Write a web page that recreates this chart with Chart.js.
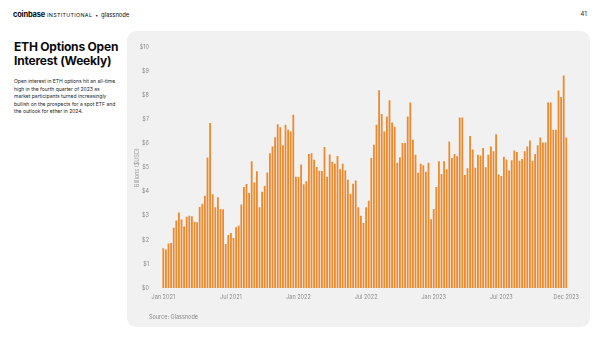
<!DOCTYPE html>
<html>
<head>
<meta charset="utf-8">
<script src="https://cdn.jsdelivr.net/npm/chart.js@4.4.0/dist/chart.umd.min.js"></script>
<style>
    html, body { margin: 0; padding: 0; background: #fff; }
    body { width: 600px; height: 338px; position: relative; overflow: hidden; font-family: Inter, "Open Sans", sans-serif; color: #0a0b0d; }
    .brand { position: absolute; left: 13px; top: 10px; font-size: 7.5px; line-height: 10px; white-space: nowrap; }
    .brand b { font-weight: 700; letter-spacing: -0.2px; }
    .brand .inst { font-size: 5.4px; letter-spacing: 0.3px; font-weight: 400; }
    .brand .dot { font-size: 5px; margin: 0 3px; }
    .brand .gn { font-size: 5.8px; }
    .page { position: absolute; right: 13px; top: 9px; font-size: 6.5px; line-height: 10px; color: #333; }
    .title { position: absolute; left: 14px; top: 40px; font-size: 12px; line-height: 14px; font-weight: 700; letter-spacing: -0.2px; white-space: nowrap; }
    .desc { position: absolute; left: 14px; top: 78px; font-size: 5px; line-height: 7.6px; white-space: pre; color: #222; }
    .panel { position: absolute; left: 127px; top: 31px; width: 463px; height: 296px; background: #f1f1f1; border-radius: 9px; }
    .panel canvas { position: absolute; left: 0; top: 0; }
    .source { position: absolute; left: 149px; top: 313px; font-size: 5.5px; line-height: 8px; color: #888; }
</style>
</head>
<body>
<div class="brand"><b>coinbase</b> <span class="inst">INSTITUTIONAL</span><span class="dot">&bull;</span><span class="gn">glassnode</span></div>
<div class="page">41</div>
<div class="title">ETH Options Open<br>Interest (Weekly)</div>
<div class="desc">Open interest in ETH options hit an all-time
high in the fourth quarter of 2023 as
market participants turned increasingly
bullish on the prospects for a spot ETF and
the outlook for ether in 2024.</div>
<div class="panel"><canvas id="oiChart" width="463" height="296"></canvas></div>
<div class="source">Source: Glassnode</div>

<script>
// weekly ETH options open interest, billions USD
const oi2021 = [1.65, 1.6, 1.85, 1.87, 2.5, 2.8, 3.14, 2.85, 2.55, 2.96, 3.0, 2.98, 2.75,
    2.73, 3.36, 3.5, 3.83, 5.42, 6.85, 3.9, 3.35, 3.77, 3.28, 3.27, 1.83, 2.2,
    2.29, 2.08, 2.52, 2.6, 3.47, 4.2, 4.32, 3.95, 5.27, 4.38, 4.85, 3.35, 4.0,
    4.25, 4.8, 5.6, 5.88, 6.26, 6.8, 6.68, 5.93, 6.78, 6.57, 6.5, 7.2, 4.62];
const oi2022 = [4.61, 5.13, 4.31, 4.44, 5.57, 5.6, 5.33, 5.03, 4.87, 4.86, 5.86, 4.62, 5.55,
    5.24, 5.16, 5.48, 4.93, 5.16, 4.88, 4.5, 3.92, 4.33, 4.47, 3.35, 3.0, 2.7,
    3.35, 3.62, 5.4, 5.95, 6.78, 8.22, 7.23, 6.5, 7.12, 7.8, 6.88, 6.7, 5.2,
    5.43, 6.02, 6.02, 7.12, 7.71, 6.16, 5.54, 4.79, 5.16, 5.1, 4.83, 5.2, 2.86];
const oi2023 = [3.28, 4.2, 5.27, 4.74, 5.27, 4.93, 6.09, 5.4, 5.57, 5.47, 7.08, 7.08, 4.69,
    4.97, 6.31, 5.75, 5.0, 5.54, 5.5, 5.82, 5.02, 5.54, 5.88, 5.68, 6.39, 4.72,
    4.65, 5.45, 5.34, 4.88, 5.31, 5.71, 5.65, 5.29, 5.36, 5.68, 5.88, 6.13, 5.29,
    5.57, 5.93, 6.25, 6.05, 6.05, 7.71, 7.71, 6.57, 6.57, 8.21, 7.94, 8.83, 6.25];

const tickLabels = ['Jan 2021', 'Jul 2021', 'Jan 2022', 'Jul 2022', 'Jan 2023', 'Jul 2023', 'Dec 2023'];
const monthNames = ['Jan', 'Feb', 'Mar', 'Apr', 'May', 'Jun', 'Jul', 'Aug', 'Sep', 'Oct', 'Nov', 'Dec'];
const firstWeek = Date.UTC(2021, 0, 4);

const openInterest = oi2021.concat(oi2022, oi2023);
const weeks = openInterest.map((v, i) => new Date(firstWeek + i * 7 * 864e5));

function monthLabel(d) {
    return monthNames[d.getUTCMonth()] + ' ' + d.getUTCFullYear();
}

const tickFont = { family: 'Inter, "Open Sans", sans-serif', size: 5.5 };

new Chart(document.getElementById('oiChart'), {
    type: 'bar',
    data: {
        labels: weeks.map(d => d.toISOString().slice(0, 10)),
        datasets: [{
            data: openInterest,
            backgroundColor: '#ec8a30',
            categoryPercentage: 1,
            barPercentage: 0.7
        }]
    },
    options: {
        responsive: false,
        animation: false,
        layout: { padding: { top: 14, right: 22.4, left: 0, bottom: 0 } },
        plugins: { legend: { display: false }, tooltip: { enabled: false } },
        scales: {
            x: {
                grid: { display: false, drawTicks: false },
                border: { display: false },
                afterFit: scale => { scale.height = 39; },
                ticks: {
                    autoSkip: false,
                    maxRotation: 0,
                    minRotation: 0,
                    padding: 6,
                    color: '#8a8a8a',
                    font: tickFont,
                    callback: function (value, index) {
                        const last = tickLabels[tickLabels.length - 1];
                        if (index === weeks.length - 1) return last;
                        const name = monthLabel(weeks[index]);
                        const prev = index > 0 ? monthLabel(weeks[index - 1]) : null;
                        if (name !== prev && name !== last && tickLabels.includes(name)) return name;
                        return '';
                    }
                }
            },
            y: {
                min: 0,
                max: 10,
                grid: { display: false, drawTicks: false },
                border: { display: false },
                afterFit: scale => { scale.width = 35; },
                ticks: {
                    stepSize: 1,
                    padding: 13,
                    color: '#8a8a8a',
                    font: tickFont,
                    callback: v => '$' + v
                },
                title: {
                    display: true,
                    text: 'Billions ($USD)',
                    color: '#9a9a9a',
                    font: tickFont,
                    padding: { top: 7.2, bottom: 0 }
                }
            }
        }
    }
});
</script>
</body>
</html>
